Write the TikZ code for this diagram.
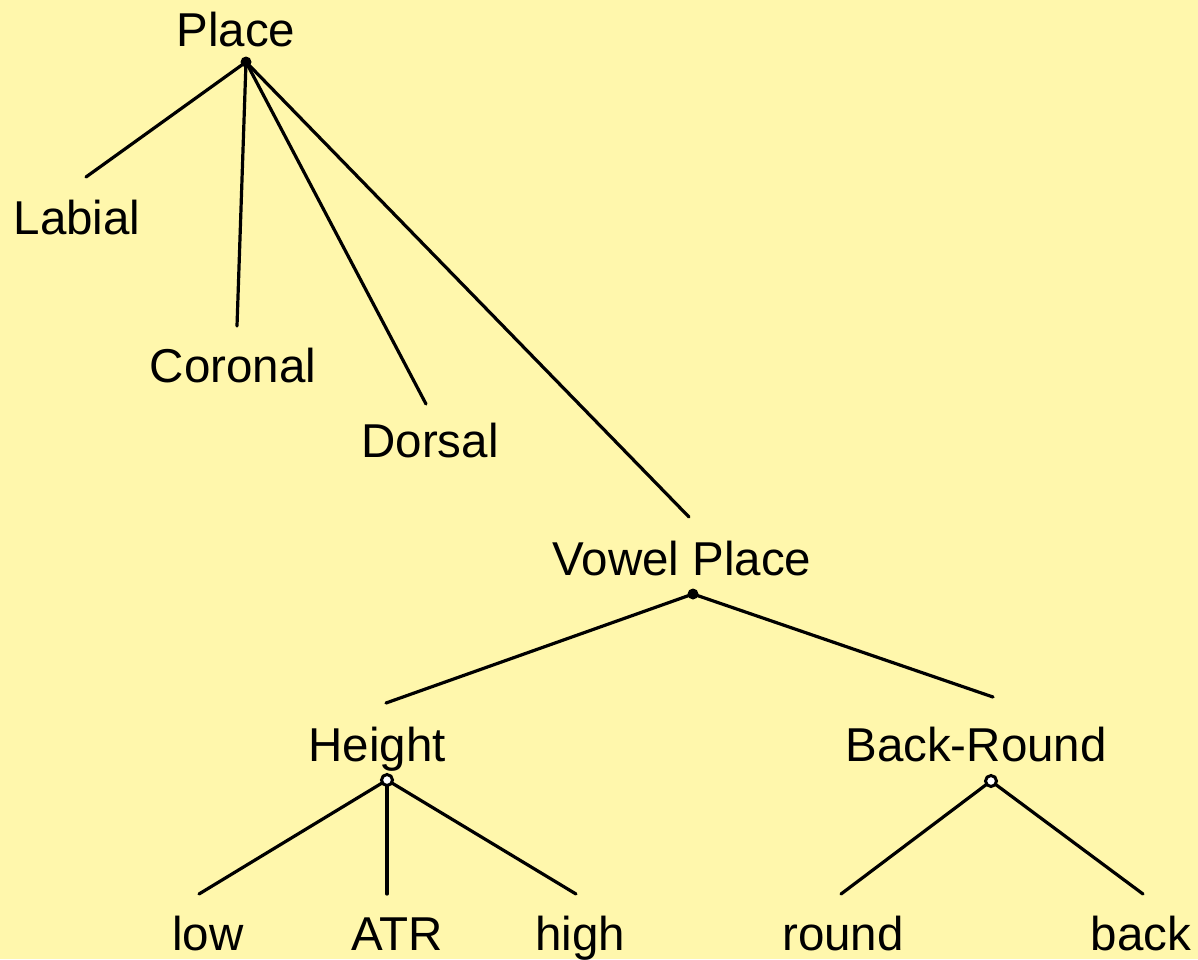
\documentclass[tikz,border=0pt]{standalone}
\usepackage{fontspec}
\setmainfont{Liberation Sans}
\definecolor{bg}{RGB}{255,247,172}
\begin{document}
\begin{tikzpicture}[x=1pt,y=-1pt,
  lbl/.style={anchor=base,inner sep=0pt,font=\fontsize{47.5}{56}\selectfont},
  edge/.style={line width=3.2pt,line cap=round},
  fdot/.style={circle,fill=black,inner sep=0pt,minimum size=11pt},
  odot/.style={circle,draw=black,fill=white,line width=3pt,inner sep=0pt,minimum size=11pt}]
\fill[bg] (0,0) rectangle (1198,959);
\useasboundingbox (0,0) rectangle (1198,959);
% labels
\node[lbl] (place) at (236,46) {Place};
\node[lbl] (labial) at (77,234) {Labial};
\node[lbl] (coronal) at (233,382) {Coronal};
\node[lbl] (dorsal) at (430,457) {Dorsal};
\node[lbl] (vplace) at (682,575) {Vowel Place};
\node[lbl] (height) at (377,761) {Height};
\node[lbl] (backround) at (976,761) {Back-Round};
\node[lbl] (low) at (208,950) {low};
\node[lbl] (atr) at (397,950) {ATR};
\node[lbl] (high) at (580,950) {high};
\node[lbl] (round) at (843,950) {round};
\node[lbl] (back) at (1141,950) {back};
% line ends
\coordinate (labialT) at (86,177);
\coordinate (coronalT) at (237,326);
\coordinate (dorsalT) at (426,404);
\coordinate (vplaceT) at (689,517);
\coordinate (heightT) at (386,703);
\coordinate (backroundT) at (993,697);
\coordinate (lowT) at (199,894);
\coordinate (atrT) at (387,894);
\coordinate (highT) at (576,894);
\coordinate (roundT) at (841,894);
\coordinate (backT) at (1143,894);
% dots
\coordinate (placeD) at (246,62);
\coordinate (vplaceD) at (693,594);
\coordinate (heightD) at (387,780);
\coordinate (backroundD) at (991,781);
% edges
\foreach \t in {labialT,coronalT,dorsalT,vplaceT} \draw[edge] (placeD) -- (\t);
\foreach \t in {heightT,backroundT} \draw[edge] (vplaceD) -- (\t);
\foreach \t in {lowT,atrT,highT} \draw[edge] (heightD) -- (\t);
\foreach \t in {roundT,backT} \draw[edge] (backroundD) -- (\t);
\node[fdot] (pd) at (placeD) {};
\node[fdot] (vd) at (vplaceD) {};
\node[odot] (hd) at (heightD) {};
\node[odot] (bd) at (backroundD) {};
\end{tikzpicture}
\end{document}
